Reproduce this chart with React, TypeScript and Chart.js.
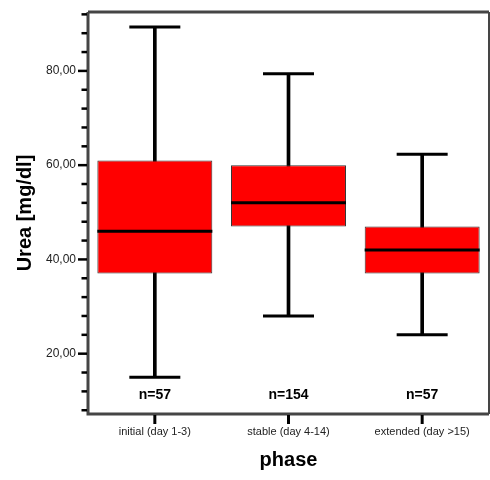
import React, { useEffect, useRef } from "react";
import { Chart, registerables } from "chart.js";

Chart.register(...registerables);

const categories = ["initial (day 1-3)", "stable (day 4-14)", "extended (day >15)"];
const whiskerLow = [15, 28, 24];
const q1 = [37, 47, 37];
const medians = [46, 52, 42];
const q3 = [61, 60, 47];
const whiskerHigh = [89.3, 79.4, 62.3];
const nLabels = ["n=57", "n=154", "n=57"];
const yMajorTicks = [20, 40, 60, 80];

const FONT = "'Liberation Sans', Arial, sans-serif";

const decorPlugin = {
  id: "decor",
  afterDatasetsDraw(chart: any) {
    const { ctx, chartArea, scales } = chart;
    const x = scales.x;
    ctx.save();
    ctx.fillStyle = "#000";
    ctx.font = `bold 14px ${FONT}`;
    ctx.textAlign = "center";
    ctx.textBaseline = "middle";
    nLabels.forEach((t, i) => {
      ctx.fillText(t, x.getPixelForValue(i), chartArea.bottom - 19);
    });
    ctx.restore();
  },
  afterDraw(chart: any) {
    const { ctx, chartArea, scales } = chart;
    const y = scales.y;
    const x = scales.x;
    ctx.save();
    ctx.strokeStyle = "#454545";
    ctx.lineWidth = 3;
    ctx.beginPath();
    ctx.moveTo(chartArea.left, chartArea.top);
    ctx.lineTo(chartArea.left, chartArea.bottom);
    ctx.lineTo(chartArea.right, chartArea.bottom);
    ctx.stroke();
    ctx.beginPath();
    ctx.moveTo(chartArea.left, chartArea.top);
    ctx.lineTo(chartArea.right, chartArea.top);
    ctx.stroke();
    ctx.lineWidth = 2;
    ctx.beginPath();
    ctx.moveTo(chartArea.right, chartArea.top);
    ctx.lineTo(chartArea.right, chartArea.bottom);
    ctx.stroke();
    ctx.strokeStyle = "#000";
    ctx.lineWidth = 2.5;
    for (let v = Math.ceil(y.min / 4) * 4; v <= y.max; v += 4) {
      const py = y.getPixelForValue(v);
      const len = yMajorTicks.includes(v) ? 8.5 : 5;
      ctx.beginPath();
      ctx.moveTo(chartArea.left - 1.5 - len, py);
      ctx.lineTo(chartArea.left - 1, py);
      ctx.stroke();
    }
    ctx.lineWidth = 3;
    categories.forEach((_, i) => {
      const px = x.getPixelForValue(i);
      ctx.beginPath();
      ctx.moveTo(px, chartArea.bottom + 1);
      ctx.lineTo(px, chartArea.bottom + 10);
      ctx.stroke();
    });
    ctx.restore();
  },
};

export default function App() {
  const ref = useRef<HTMLCanvasElement>(null);
  useEffect(() => {
    if (!ref.current) return;
    const chart = new Chart(ref.current, {
      type: "bar",
      data: {
        labels: categories,
        datasets: [
          {
            type: "line",
            label: "median",
            data: medians,
            showLine: false,
            pointStyle: "line",
            pointRadius: 57.5,
            pointHoverRadius: 57.5,
            borderColor: "#000",
            borderWidth: 3,
            clip: false,
            order: 0,
          } as any,
          {
            type: "line",
            label: "max",
            data: whiskerHigh,
            showLine: false,
            pointStyle: "line",
            pointRadius: 25.5,
            pointHoverRadius: 25.5,
            borderColor: "#000",
            borderWidth: 3,
            clip: false,
            order: 0,
          } as any,
          {
            type: "line",
            label: "min",
            data: whiskerLow,
            showLine: false,
            pointStyle: "line",
            pointRadius: 25.5,
            pointHoverRadius: 25.5,
            borderColor: "#000",
            borderWidth: 3,
            clip: false,
            order: 0,
          } as any,
          {
            type: "bar",
            label: "box",
            data: categories.map((_, i) => [q1[i], q3[i]]),
            backgroundColor: "#ff0000",
            borderColor: "#333",
            borderWidth: 1,
            borderSkipped: false,
            barPercentage: 0.86,
            categoryPercentage: 1,
            grouped: false,
            order: 1,
          } as any,
          {
            type: "bar",
            label: "whisker",
            data: categories.map((_, i) => [whiskerLow[i], whiskerHigh[i]]),
            backgroundColor: "#000",
            borderWidth: 0,
            barThickness: 3,
            grouped: false,
            order: 2,
          } as any,
        ],
      },
      options: {
        animation: false,
        responsive: true,
        maintainAspectRatio: false,
        layout: { autoPadding: false, padding: { top: 12, right: 1, left: 0, bottom: 0 } },
        plugins: { legend: { display: false }, tooltip: { enabled: false } },
        scales: {
          x: {
            type: "category",
            offset: true,
            grid: { display: false },
            border: { display: false },
            ticks: {
              color: "#222",
              font: { family: FONT, size: 11 },
              padding: 3,
              maxRotation: 0,
              autoSkip: false,
            },
            title: {
              display: true,
              text: "phase",
              color: "#000",
              font: { family: FONT, size: 20, weight: "bold" },
              padding: { top: 0, bottom: 8 },
            },
            afterFit: (s: any) => {
              s.height = 66;
              s.paddingLeft = 0;
              s.paddingRight = 0;
            },
          },
          y: {
            type: "linear",
            min: 7.2,
            max: 92.5,
            grid: { display: false },
            border: { display: false },
            ticks: {
              stepSize: 4,
              autoSkip: false,
              color: "#222",
              font: { family: FONT, size: 12 },
              padding: 4,
              callback: (v: any) =>
                yMajorTicks.includes(Number(v)) ? Number(v).toFixed(2).replace(".", ",") : "",
            },
            title: {
              display: true,
              text: "Urea [mg/dl]",
              color: "#000",
              font: { family: FONT, size: 20, weight: "bold" },
              padding: { top: 13, bottom: 0 },
            },
            afterFit: (s: any) => {
              s.width = 88;
              s.paddingTop = 0;
              s.paddingBottom = 0;
            },
          },
        },
      },
      plugins: [decorPlugin],
    } as any);
    return () => chart.destroy();
  }, []);
  return (
    <div style={{ position: "fixed", left: 0, top: 0, width: 490, height: 480, background: "#fff" }}>
      <canvas ref={ref} />
    </div>
  );
}
